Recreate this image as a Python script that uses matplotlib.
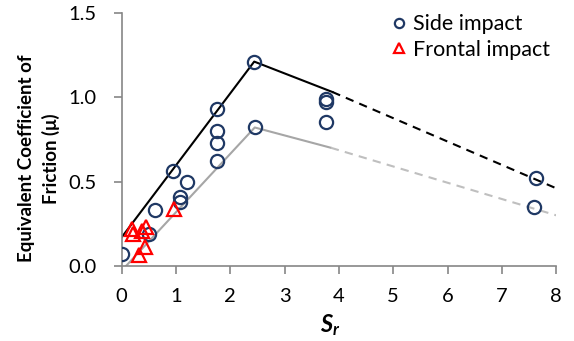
import matplotlib
matplotlib.use("Agg")
import matplotlib.pyplot as plt

side_x = [0.0, 0.51, 0.61, 0.95, 1.08, 1.08, 1.21, 1.75, 1.75, 1.75, 1.75, 2.44, 2.45, 3.77, 3.77, 3.76, 7.62, 7.60]
side_y = [0.07, 0.19, 0.33, 0.56, 0.41, 0.38, 0.50, 0.93, 0.80, 0.73, 0.62, 1.21, 0.82, 0.99, 0.97, 0.85, 0.52, 0.35]

front_x = [0.19, 0.21, 0.38, 0.44, 0.43, 0.32, 0.96]
front_y = [0.22, 0.19, 0.21, 0.23, 0.11, 0.065, 0.34]

upper_solid_x = [0.0, 2.44, 3.88]
upper_solid_y = [0.17, 1.21, 1.03]
upper_dash_x = [3.88, 8.0]
upper_dash_y = [1.03, 0.46]

lower_solid_x = [0.08, 2.45, 3.85]
lower_solid_y = [0.0, 0.82, 0.70]
lower_dash_x = [3.85, 8.0]
lower_dash_y = [0.70, 0.30]

plt.rcParams['font.family'] = ['Lato', 'DejaVu Sans']
plt.rcParams['mathtext.fontset'] = 'custom'
plt.rcParams['mathtext.it'] = 'Lato:bold:italic'
plt.rcParams['mathtext.rm'] = 'Lato:bold'

fig = plt.figure(figsize=(5.74, 3.41), dpi=100)
ax = fig.add_axes([0.212, 0.22, 0.757, 0.743])

ax.plot(upper_solid_x, upper_solid_y, color='black', lw=1.5, zorder=1)
ax.plot(upper_dash_x, upper_dash_y, color='black', lw=1.5, ls=(0, (4, 3)), zorder=1)
ax.plot(lower_solid_x, lower_solid_y, color='#a6a6a6', lw=1.5, zorder=1)
ax.plot(lower_dash_x, lower_dash_y, color='#bfbfbf', lw=1.5, ls=(0, (4, 3)), zorder=1)

ax.plot(side_x, side_y, ls='none', marker='o', ms=9.5, mfc='none', mec='#1f3864', mew=1.6, label='Side impact', zorder=3)
ax.plot(front_x, front_y, ls='none', marker='^', ms=9.5, mfc='none', mec='#ff0000', mew=1.6, label='Frontal impact', zorder=3)

ax.set_xlim(0, 8)
ax.set_ylim(0, 1.5)
ax.set_xticks(range(0, 9))
ax.set_yticks([0.0, 0.5, 1.0, 1.5])
ax.set_yticklabels(['0.0', '0.5', '1.0', '1.5'])

for s in ['top', 'right']:
    ax.spines[s].set_visible(False)
for s in ['left', 'bottom']:
    ax.spines[s].set_color('#868686')
    ax.spines[s].set_linewidth(1.2)
ax.tick_params(axis='both', direction='out', color='#868686', width=1.2, length=6, labelsize=14.5)
ax.tick_params(axis='y', pad=12)
ax.tick_params(axis='x', pad=10)

fig.text(0.575, 0.025, r'$S_r$', fontsize=17, ha='center')

fig.text(0.068, 0.535, 'Equivalent Coefficient of\nFriction (μ)', rotation=90, ha='center', va='center',
         fontsize=13.5, fontweight='bold', linespacing=1.45)

leg = ax.legend(loc='upper right', bbox_to_anchor=(1.03, 1.07), frameon=False, fontsize=15.5,
                handlelength=0.5, handletextpad=0.4, labelspacing=0.25, markerscale=0.7)

fig.savefig('out.png', dpi=100)
